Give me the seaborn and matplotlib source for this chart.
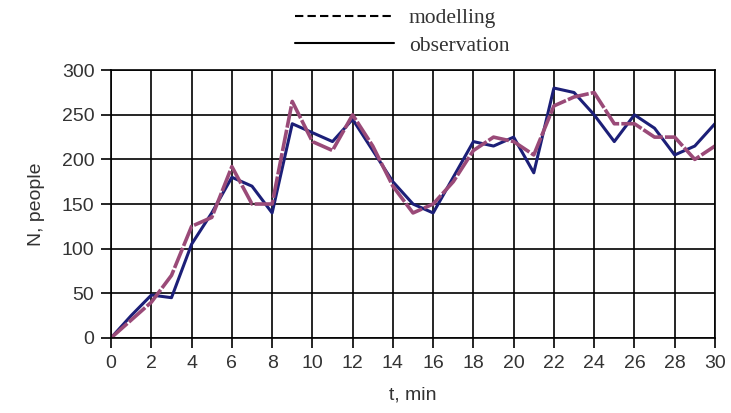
"""Observed vs modelled number of people over time."""
import matplotlib
matplotlib.use("Agg")
import matplotlib.pyplot as plt
from matplotlib.lines import Line2D
import pandas as pd
import seaborn as sns

NAVY = "#1c1f78"
MAUVE = "#9a4a78"
TEXT = "#333333"

t_min = list(range(31))
observation = [0, 25, 48, 45, 105, 140, 180, 170, 140, 240, 230, 220, 245, 210, 175,
               150, 140, 180, 220, 215, 225, 185, 280, 275, 250, 220, 250, 235, 205,
               215, 240]
modelling = [0, 20, 40, 70, 125, 135, 192, 150, 150, 265, 220, 210, 250, 215, 170,
             140, 150, 175, 210, 225, 220, 205, 260, 270, 275, 240, 240, 225, 225,
             200, 215]
x_ticks = list(range(0, 31, 2))
y_ticks = list(range(0, 301, 50))


def main():
    sns.set_style("white")
    plt.rcParams["font.family"] = ["Liberation Sans", "DejaVu Sans"]
    data = pd.DataFrame({"t": t_min, "observation": observation, "modelling": modelling})

    fig = plt.figure(figsize=(7.31, 4.13), dpi=100)
    ax = fig.add_axes([0.152, 0.182, 0.826, 0.648])
    sns.lineplot(data=data, x="t", y="observation", color=NAVY, linewidth=2.2, ax=ax)
    sns.lineplot(data=data, x="t", y="modelling", color=MAUVE, linewidth=2.6,
                 dashes=False, ax=ax)
    # long dashes with tiny gaps, as in the original
    ax.lines[-1].set_dashes((6, 0.6))

    ax.set_xlim(0, 30)
    ax.set_ylim(0, 300)
    ax.set_xticks(x_ticks)
    ax.set_yticks(y_ticks)
    ax.grid(True, color="black", linewidth=1.2)
    for spine in ax.spines.values():
        spine.set_color("black")
        spine.set_linewidth(1.2)
    ax.tick_params(axis="both", direction="out", length=7, width=1.2, color="black",
                   labelcolor=TEXT, labelsize=14, bottom=True, left=True, pad=5)
    ax.set_xlabel("t, min", fontsize=14, color=TEXT, labelpad=11)
    ax.set_ylabel("N, people", fontsize=14, color=TEXT, labelpad=12)

    handles = [Line2D([], [], color="black", linestyle=(0, (4, 2)), linewidth=1.5),
               Line2D([], [], color="black", linewidth=1.5)]
    fig.legend(handles, ["modelling", "observation"], loc="upper left",
               bbox_to_anchor=(0.403, 0.98), borderaxespad=0, borderpad=0,
               frameon=False, handlelength=4.6, labelspacing=0.35,
               handletextpad=0.7, labelcolor=TEXT,
               prop={"family": "Liberation Serif", "size": 15.5})

    fig.savefig("out.png", dpi=100)


if __name__ == "__main__":
    main()
